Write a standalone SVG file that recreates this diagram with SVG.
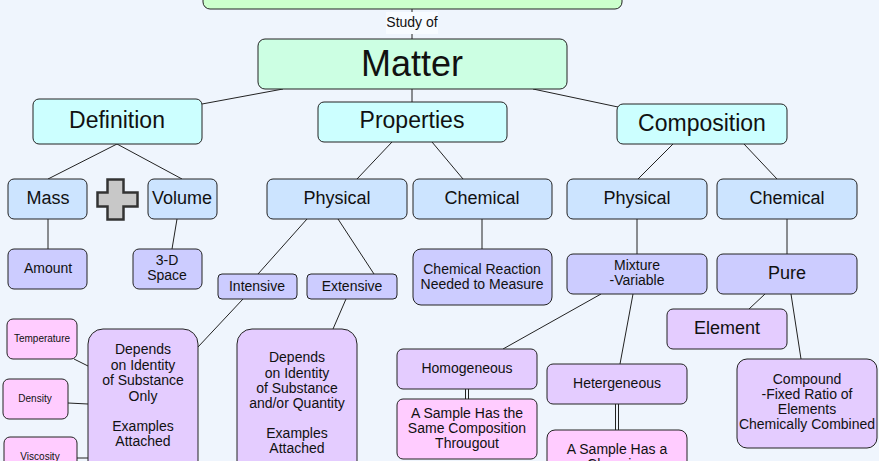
<svg xmlns="http://www.w3.org/2000/svg" width="879" height="461" viewBox="0 0 879 461">
<style>
text{font-family:"Liberation Sans",Arial,sans-serif;fill:#111;text-anchor:middle;dominant-baseline:central}
.n rect{stroke:#222;stroke-width:1}
.g0{fill:#ccffcc}.g1{fill:#ccffe3}.cy{fill:#ccffff}.bl{fill:#cce4ff}.lv{fill:#ccccff}.pu{fill:#e4ccff}.pk{fill:#ffccff}
.c line{stroke:#222;stroke-width:1}
.f36{font-size:36px}.f23{font-size:23px}.f18{font-size:18px}.f14{font-size:14px}.f10{font-size:10px}
</style>
<rect width="879" height="461" fill="#eff5fd"/>
<g class="c" id="connectors">
<line x1="412" y1="9" x2="412" y2="39"/>
<line x1="283" y1="89" x2="202" y2="104"/>
<line x1="412" y1="89" x2="412" y2="102"/>
<line x1="533" y1="89" x2="618" y2="107"/>
<line x1="117" y1="144" x2="48" y2="179"/>
<line x1="117" y1="144" x2="182" y2="179"/>
<line x1="48" y1="219" x2="48" y2="249"/>
<line x1="177" y1="219" x2="172" y2="249"/>
<line x1="392" y1="142" x2="357" y2="179"/>
<line x1="432" y1="142" x2="463" y2="179"/>
<line x1="307" y1="219" x2="258" y2="274"/>
<line x1="338" y1="219" x2="374" y2="274"/>
<line x1="243" y1="299" x2="198" y2="347"/>
<line x1="346" y1="299" x2="333" y2="329"/>
<line x1="482" y1="219" x2="482" y2="249"/>
<line x1="673" y1="144" x2="638" y2="179"/>
<line x1="744" y1="144" x2="777" y2="179"/>
<line x1="637" y1="219" x2="637" y2="254"/>
<line x1="787" y1="219" x2="787" y2="254"/>
<line x1="601" y1="294" x2="503" y2="349"/>
<line x1="633" y1="294" x2="620" y2="364"/>
<line x1="765" y1="294" x2="749" y2="309"/>
<line x1="791" y1="294" x2="801" y2="359"/>
<line x1="465.5" y1="389" x2="465.5" y2="399"/>
<line x1="468.5" y1="389" x2="468.5" y2="399"/>
<line x1="615.5" y1="404" x2="615.5" y2="430"/>
<line x1="618.5" y1="404" x2="618.5" y2="430"/>
<line x1="74" y1="359" x2="88" y2="366"/>
<line x1="68" y1="403" x2="88" y2="404"/>
<line x1="77" y1="458" x2="88" y2="458"/>
</g>
<g id="study-of-label">
<rect x="386" y="12" width="52" height="22" fill="#f7fbff"/>
<text x="412" y="22" class="f14">Study of</text>
</g>
<g class="n" id="top"><rect class="g0" x="203" y="-20" width="419" height="29" rx="7"/></g>
<g class="n" id="matter"><rect class="g1" x="258" y="39" width="309" height="50" rx="7"/><text x="412" y="63" class="f36">Matter</text></g>
<g class="n" id="definition"><rect class="cy" x="33" y="99" width="169" height="45" rx="6"/><text x="117" y="120" class="f23">Definition</text></g>
<g class="n" id="properties"><rect class="cy" x="318" y="102" width="189" height="40" rx="6"/><text x="412" y="120" class="f23">Properties</text></g>
<g class="n" id="composition"><rect class="cy" x="617" y="104" width="170" height="40" rx="6"/><text x="702" y="123" class="f23">Composition</text></g>
<g class="n" id="mass"><rect class="bl" x="8" y="179" width="79" height="40" rx="6"/><text x="48" y="198" class="f18">Mass</text></g>
<g id="plus"><path d="M107.5 179.5h16v13h14v14h-14v13h-16v-13h-10v-14h10z" fill="#c8c8c8" stroke="#333" stroke-width="2.5" stroke-linejoin="miter"/></g>
<g class="n" id="volume"><rect class="bl" x="148" y="179" width="69" height="40" rx="6"/><text x="182" y="198" class="f18">Volume</text></g>
<g class="n" id="amount"><rect class="lv" x="8" y="249" width="79" height="40" rx="6"/><text x="48" y="268" class="f14">Amount</text></g>
<g class="n" id="space3d"><rect class="lv" x="133" y="249" width="69" height="40" rx="6"/><text x="167" y="260" class="f14">3-D</text><text x="167" y="275" class="f14">Space</text></g>
<g class="n" id="physical"><rect class="bl" x="267" y="179" width="140" height="40" rx="6"/><text x="337" y="198" class="f18">Physical</text></g>
<g class="n" id="chemical"><rect class="bl" x="413" y="179" width="139" height="40" rx="6"/><text x="482" y="198" class="f18">Chemical</text></g>
<g class="n" id="intensive"><rect class="lv" x="218" y="274" width="79" height="25" rx="4"/><text x="257" y="286" class="f14">Intensive</text></g>
<g class="n" id="extensive"><rect class="lv" x="307" y="274" width="90" height="25" rx="4"/><text x="352" y="286" class="f14">Extensive</text></g>
<g class="n" id="chem-reaction"><rect class="lv" x="413" y="249" width="139" height="56" rx="8"/><text x="482" y="269" class="f14">Chemical Reaction</text><text x="482" y="284" class="f14">Needed to Measure</text></g>
<g class="n" id="physical2"><rect class="bl" x="567" y="179" width="140" height="40" rx="6"/><text x="637" y="198" class="f18">Physical</text></g>
<g class="n" id="chemical2"><rect class="bl" x="717" y="179" width="140" height="40" rx="6"/><text x="787" y="198" class="f18">Chemical</text></g>
<g class="n" id="mixture"><rect class="lv" x="567" y="254" width="140" height="40" rx="6"/><text x="637" y="265" class="f14">Mixture</text><text x="637" y="280" class="f14">-Variable</text></g>
<g class="n" id="pure"><rect class="lv" x="717" y="254" width="140" height="40" rx="6"/><text x="787" y="273" class="f18">Pure</text></g>
<g class="n" id="element"><rect class="pu" x="667" y="309" width="120" height="40" rx="6"/><text x="727" y="328" class="f18">Element</text></g>
<g class="n" id="compound"><rect class="pu" x="737" y="359" width="140" height="89" rx="10"/><text x="807" y="379" class="f14">Compound</text><text x="807" y="394" class="f14">-Fixed Ratio of</text><text x="807" y="409" class="f14">Elements</text><text x="807" y="424" class="f14">Chemically Combined</text></g>
<g class="n" id="homogeneous"><rect class="pu" x="397" y="349" width="140" height="40" rx="6"/><text x="467" y="368" class="f14">Homogeneous</text></g>
<g class="n" id="same-comp"><rect class="pk" x="397" y="399" width="140" height="60" rx="6"/><text x="467" y="413" class="f14">A Sample Has the</text><text x="467" y="428" class="f14">Same Composition</text><text x="467" y="443" class="f14">Througout</text></g>
<g class="n" id="hetergeneous"><rect class="pu" x="547" y="364" width="140" height="40" rx="6"/><text x="617" y="383" class="f14">Hetergeneous</text></g>
<g class="n" id="changing"><rect class="pk" x="547" y="430" width="140" height="60" rx="8"/><text x="617" y="449" class="f14">A Sample Has a</text><text x="617" y="464" class="f14">Changing</text></g>
<g class="n" id="depends1"><rect class="pu" x="88" y="329" width="110" height="160" rx="15"/><text x="143" y="349" class="f14">Depends</text><text x="143" y="364.5" class="f14">on Identity</text><text x="143" y="380" class="f14">of Substance</text><text x="143" y="395.5" class="f14">Only</text><text x="143" y="426" class="f14">Examples</text><text x="143" y="441" class="f14">Attached</text></g>
<g class="n" id="depends2"><rect class="pu" x="237" y="329" width="120" height="160" rx="15"/><text x="297" y="357" class="f14">Depends</text><text x="297" y="372.5" class="f14">on Identity</text><text x="297" y="388" class="f14">of Substance</text><text x="297" y="403" class="f14">and/or Quantity</text><text x="297" y="433" class="f14">Examples</text><text x="297" y="448" class="f14">Attached</text></g>
<g class="n" id="temperature"><rect class="pk" x="7" y="319" width="70" height="40" rx="6"/><text x="42" y="338" class="f10">Temperature</text></g>
<g class="n" id="density"><rect class="pk" x="3" y="379" width="65" height="40" rx="6"/><text x="35" y="398" class="f10">Density</text></g>
<g class="n" id="viscosity"><rect class="pk" x="4" y="437" width="73" height="40" rx="6"/><text x="40" y="456" class="f10">Viscosity</text></g>
</svg>
